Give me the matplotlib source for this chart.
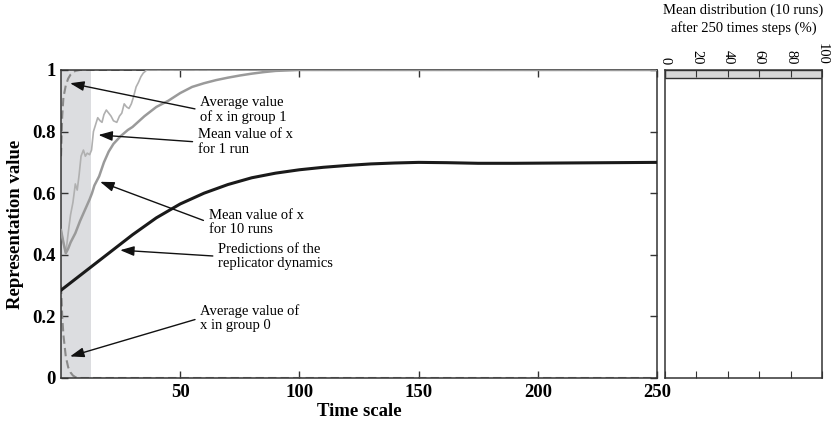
import matplotlib.pyplot as plt
import numpy as np

# --- data ---
t_pred = [0, 10, 20, 30, 40, 50, 60, 70, 80, 90, 100, 110, 120, 130, 140,
          150, 162, 175, 190, 210, 230, 250]
x_pred = [0.285, 0.345, 0.405, 0.465, 0.52, 0.565, 0.6, 0.628, 0.65, 0.665,
          0.676, 0.684, 0.69, 0.695, 0.698, 0.70, 0.699, 0.697, 0.697, 0.698, 0.699, 0.70]

t_run1 = [0, 1, 2, 3, 4, 5, 6, 6.8, 7.6, 8.4, 9.4, 10.2, 11, 12, 12.8, 13.6,
          14.4, 15.4, 16.4, 17.2, 18, 19, 20, 21, 22, 23.4, 24.5, 25.5, 26.5,
          27.5, 28.5, 29.5, 30.5, 31.5, 32.5, 33.5, 34.5, 36, 250]
x_run1 = [0.48, 0.44, 0.405, 0.47, 0.53, 0.57, 0.63, 0.61, 0.66, 0.72, 0.74,
          0.72, 0.73, 0.725, 0.74, 0.80, 0.82, 0.845, 0.835, 0.83, 0.855, 0.87,
          0.86, 0.85, 0.835, 0.83, 0.85, 0.86, 0.89, 0.88, 0.875, 0.89, 0.915,
          0.945, 0.96, 0.978, 0.99, 1.0, 1.0]

t_run10 = [0, 1, 2, 3, 4, 5, 6, 8, 10, 12, 13, 14, 16, 18, 20, 22, 25, 28, 30,
           35, 40, 45, 50, 55, 60, 65, 70, 75, 80, 85, 90, 100, 250]
x_run10 = [0.48, 0.44, 0.405, 0.42, 0.44, 0.455, 0.47, 0.51, 0.545, 0.58, 0.60,
           0.625, 0.655, 0.70, 0.735, 0.76, 0.785, 0.805, 0.815, 0.85, 0.88,
           0.90, 0.925, 0.945, 0.957, 0.967, 0.975, 0.982, 0.988, 0.993, 0.997,
           1.0, 1.0]

t_g1 = [0, 0.5, 1, 2, 3, 4, 5, 6, 8, 250]
x_g1 = [0.72, 0.85, 0.91, 0.95, 0.972, 0.985, 0.992, 0.997, 1.0, 1.0]

t_g0 = [0, 0.5, 1, 2, 3, 4, 5, 6, 7, 250]
x_g0 = [0.3, 0.2, 0.14, 0.07, 0.035, 0.018, 0.008, 0.003, 0.0, 0.0]

shade_end = 12.5

# final distribution (10 runs): bin lower edges and percentage
dist_bins = [0.975]
dist_pct = [100]
bin_width = 0.025

plt.rcParams['font.family'] = ['Liberation Serif', 'DejaVu Serif']
plt.rcParams['xtick.direction'] = 'in'
plt.rcParams['ytick.direction'] = 'in'

fig = plt.figure(figsize=(8.37, 4.29), dpi=100)
ax = fig.add_axes([0.0729, 0.1189, 0.712, 0.718])
ax2 = fig.add_axes([0.7945, 0.1189, 0.1876, 0.718])

ax.axvspan(0, shade_end, color='#dcdde0', lw=0, zorder=0)
ax.plot(t_g1, x_g1, color='#8a8a8a', lw=1.5, ls=(0, (4, 2)), zorder=2)
ax.plot(t_g0, x_g0, color='#8a8a8a', lw=1.5, ls=(0, (4, 2)), zorder=2)
ax.plot(t_run1, x_run1, color='#b0b0b0', lw=1.2, zorder=3)
ax.plot(t_run10, x_run10, color='#9a9a9a', lw=1.8, zorder=3)
ax.plot(t_pred, x_pred, color='#1a1a1a', lw=2.2, zorder=4)

ax.set_xlim(0, 250)
ax.set_ylim(0, 1)
ax.set_xticks([50, 100, 150, 200, 250])
ax.set_yticks([0, 0.2, 0.4, 0.6, 0.8, 1])
ax.set_yticklabels(['0', '0.2', '0.4', '0.6', '0.8', '1'])
ax.tick_params(top=True, right=True, length=5, width=1, color='#333333',
               labelsize=13.5, pad=4)
for lab in ax.get_xticklabels() + ax.get_yticklabels():
    lab.set_fontweight('bold')
for s in ax.spines.values():
    s.set_color('#333333')
    s.set_linewidth(1.1)
ax.set_xlabel('Time scale', fontsize=13.5, fontweight='bold', labelpad=2)
ax.set_ylabel('Representation value', fontsize=13.5, fontweight='bold', labelpad=6)

arrow = dict(arrowstyle='-|>,head_length=0.8,head_width=0.28', color='#111111',
             lw=1.0, shrinkA=2, shrinkB=0, relpos=(0, 0.5))
notes = [
    ('Average value\nof x in group 1', (3.8, 0.957), (58.5, 0.87)),
    ('Mean value of x\nfor 1 run', (15.7, 0.789), (57.5, 0.766)),
    ('Mean value of x\nfor 10 runs', (16.4, 0.637), (62, 0.505)),
    ('Predictions of the\nreplicator dynamics', (24.8, 0.415), (66, 0.395)),
    ('Average value of\nx in group 0', (3.8, 0.07), (58.5, 0.195)),
]
for txt, xy, xytext in notes:
    ax.annotate(txt, xy=xy, xytext=xytext, fontsize=10.5, va='center',
                ha='left', linespacing=1.15, arrowprops=arrow, zorder=6)

# right panel: distribution after 250 steps
ax2.barh([b + bin_width / 2 for b in dist_bins], dist_pct, height=bin_width,
         color='#d8d8d8', edgecolor='#333333', lw=1.0)
ax2.set_xlim(0, 100)
ax2.set_ylim(0, 1)
ax2.set_yticks([])
ax2.set_xticks([0, 20, 40, 60, 80, 100])
ax2.xaxis.set_ticks_position('both')
ax2.tick_params(axis='x', labeltop=True, labelbottom=False, length=5,
                color='#333333', labelsize=10.5, pad=4)
for lab in ax2.get_xticklabels():
    lab.set_rotation(-90)
for s in ax2.spines.values():
    s.set_color('#333333')
    s.set_linewidth(1.1)
ax2.set_title('Mean distribution (10 runs)\nafter 250 times steps (%)',
              fontsize=10.5, linespacing=1.3, pad=8)

plt.savefig('out.png', dpi=100)
